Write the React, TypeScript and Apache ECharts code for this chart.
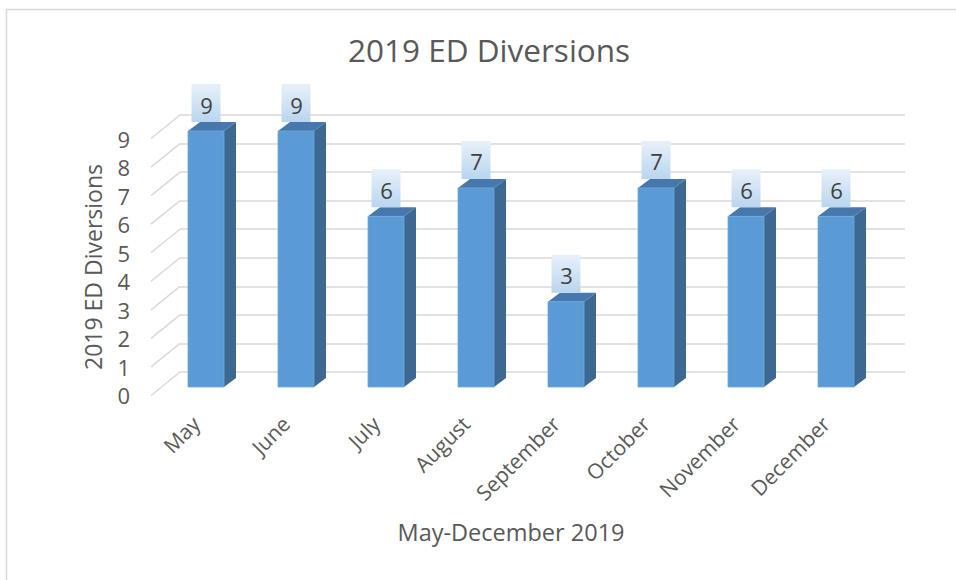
import React, { useEffect, useRef } from "react";
import * as echarts from "echarts";

const months = ["May", "June", "July", "August", "September", "October", "November", "December"];
const diversions = [9, 9, 6, 7, 3, 7, 6, 6];
const yTicks = [0, 1, 2, 3, 4, 5, 6, 7, 8, 9];
const chartTitle = "2019 ED Diversions";
const yAxisTitle = "2019 ED Diversions";
const xAxisTitle = "May-December 2019";

export default function App() {
  const ref = useRef<HTMLDivElement>(null);

  useEffect(() => {
    const chart = echarts.init(ref.current!, null, { renderer: "svg" });
    const font = "'Open Sans', sans-serif";
    const DX = 12;
    const DY = -9;
    const textGray = "#595959";

    const option: any = {
      animation: false,
      backgroundColor: "#ffffff",
      textStyle: { fontFamily: font },
      title: {
        text: chartTitle,
        left: 348,
        top: 33,
        padding: 0,
        textStyle: { fontFamily: font, fontSize: 31.5, fontWeight: "normal", color: textGray },
      },
      graphic: [
        {
          type: "rect",
          shape: { x: 6.5, y: 9.5, width: 1000, height: 700 },
          style: { fill: "none", stroke: "#d9d9d9", lineWidth: 1.5 },
          silent: true,
        },
      ],
      grid: [
        { left: 161, right: 75, top: 131, bottom: 193 },
        { left: 180, right: 51, top: 115, bottom: 208 },
        { left: 151, right: 85, top: 139, bottom: 185 },
      ],
      xAxis: [
        { gridIndex: 0, type: "category", data: months, show: false },
        { gridIndex: 1, type: "value", min: 0, max: 1, show: false },
        {
          gridIndex: 2,
          type: "category",
          data: months,
          axisLine: { show: false },
          axisTick: { show: false },
          axisLabel: { rotate: 45, fontSize: 21, color: textGray, margin: 25, fontFamily: font, interval: 0 },
          name: xAxisTitle,
          nameLocation: "middle",
          nameGap: 125,
          nameMoveOverlap: false,
          nameTextStyle: { fontSize: 23.5, color: textGray, fontFamily: font },
        },
      ],
      yAxis: [
        { gridIndex: 0, type: "value", min: 0, max: 9, interval: 1, show: false },
        {
          gridIndex: 1,
          type: "value",
          min: 0,
          max: 9,
          interval: 1,
          axisLine: { show: false },
          axisTick: { show: false },
          axisLabel: { show: false },
          splitLine: { show: true, lineStyle: { color: "#d9d9d9", width: 1.5 } },
        },
        {
          gridIndex: 2,
          type: "value",
          min: 0,
          max: 9,
          interval: 1,
          axisLine: { show: false },
          axisTick: { show: false },
          splitLine: { show: false },
          axisLabel: { fontSize: 22, color: textGray, margin: 21, fontFamily: font },
          name: yAxisTitle,
          nameLocation: "middle",
          nameGap: 47,
          nameRotate: 90,
          nameMoveOverlap: false,
          nameTextStyle: { fontSize: 23, color: textGray, fontFamily: font },
        },
      ],
      series: [
        {
          type: "custom",
          xAxisIndex: 1,
          yAxisIndex: 1,
          silent: true,
          data: yTicks.map((v) => [0, v]),
          renderItem: (params: any, api: any) => {
            const p = api.coord([0, api.value(1)]);
            return {
              type: "line",
              shape: { x1: p[0] - 29, y1: p[1] + 23.5, x2: p[0], y2: p[1] },
              style: { stroke: "#d9d9d9", lineWidth: 1.5 },
            };
          },
        },
        {
          type: "custom",
          xAxisIndex: 0,
          yAxisIndex: 0,
          data: diversions.map((v, i) => [i, v]),
          renderItem: (params: any, api: any) => {
            const idx = api.value(0);
            const val = api.value(1);
            const top = api.coord([idx, val]);
            const base = api.coord([idx, 0]);
            const w = api.size([1, 0])[0] * 0.4;
            const x0 = top[0] - w / 2;
            const x1 = top[0] + w / 2;
            const yt = top[1];
            const yb = base[1];
            const boxW = 29;
            const boxH = 38;
            const boxBottom = yt + DY;
            return {
              type: "group",
              children: [
                {
                  type: "polygon",
                  shape: { points: [[x1, yt], [x1 + DX, yt + DY], [x1 + DX, yb + DY], [x1, yb]] },
                  style: { fill: "#3c6891" },
                },
                {
                  type: "polygon",
                  shape: { points: [[x0, yt], [x0 + DX, yt + DY], [x1 + DX, yt + DY], [x1, yt]] },
                  style: { fill: "#4677ad" },
                },
                {
                  type: "rect",
                  shape: { x: x0, y: yt, width: w, height: yb - yt },
                  style: { fill: "#5b9bd5", stroke: "#6fa8dc", lineWidth: 0.8 },
                },
                {
                  type: "rect",
                  shape: { x: top[0] - boxW / 2, y: boxBottom - boxH, width: boxW, height: boxH },
                  style: {
                    fill: new echarts.graphic.LinearGradient(0, 0, 0, 1, [
                      { offset: 0, color: "#e8f1fa" },
                      { offset: 1, color: "#b9d5ef" },
                    ]),
                  },
                },
                {
                  type: "text",
                  x: top[0] + 0.5,
                  y: boxBottom - boxH / 2 + 1.5,
                  style: {
                    text: String(val),
                    align: "center",
                    verticalAlign: "middle",
                    fontSize: 22,
                    fontFamily: font,
                    fill: "#404040",
                  },
                },
              ],
            };
          },
        },
      ],
    };

    chart.setOption(option);
    return () => chart.dispose();
  }, []);

  return (
    <div
      ref={ref}
      style={{ position: "absolute", left: 0, top: 0, width: 956, height: 580 }}
    />
  );
}
